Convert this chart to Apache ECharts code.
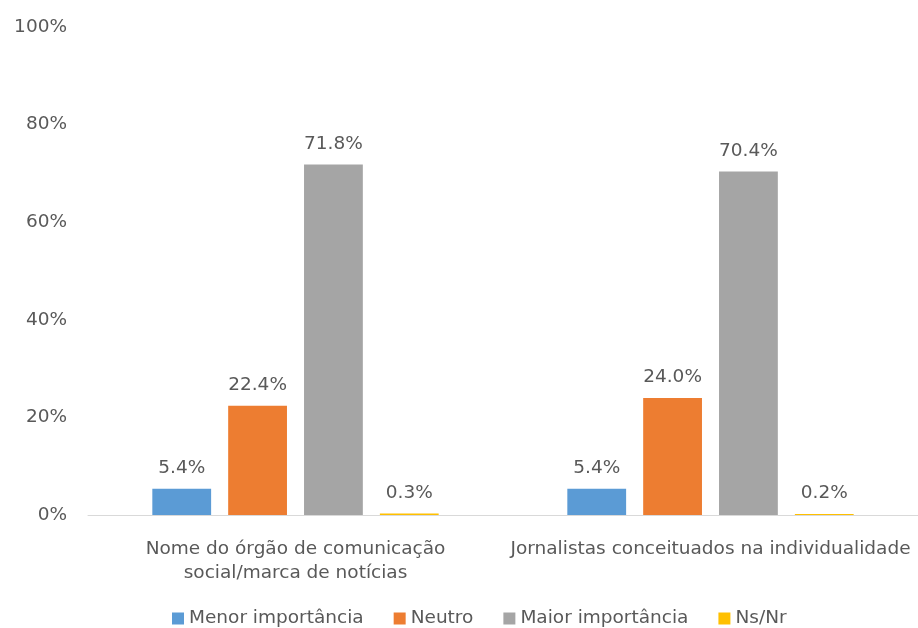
<!DOCTYPE html>
<html>
<head>
<meta charset="utf-8">
<script src="https://cdn.jsdelivr.net/npm/echarts@6/dist/echarts.min.js"></script>
<style>
  html, body { margin: 0; padding: 0; background: #ffffff; }
  #chart { width: 918px; height: 628px; }
</style>
</head>
<body>
<div id="chart"></div>
<script>
// Categories and series values (percent)
const categories = [
  'Nome do órgão de comunicação\nsocial/marca de notícias',
  'Jornalistas conceituados na individualidade'
];
const seriesNames = ['Menor importância', 'Neutro', 'Maior importância', 'Ns/Nr'];
const menorImportancia = [5.4, 5.4];
const neutro = [22.4, 24.0];
const maiorImportancia = [71.8, 70.4];
const nsNr = [0.3, 0.2];
const colors = ['#5b9bd5', '#ed7d31', '#a5a5a5', '#ffc000'];

const FONT = "'DejaVu Sans', Verdana, sans-serif";
const FS = 18.5;
const TEXT = '#595959';

const values = [menorImportancia, neutro, maiorImportancia, nsNr];

const chart = echarts.init(document.getElementById('chart'), null, { renderer: 'canvas' });
chart.setOption({
  animation: false,
  textStyle: { fontFamily: FONT },
  grid: { left: 88, right: 0, top: 27, bottom: 113, containLabel: false },
  legend: {
    bottom: -5,
    left: 167,
    itemWidth: 12,
    itemHeight: 12,
    itemGap: 30,
    icon: 'rect',
    textStyle: { color: TEXT, fontSize: FS, fontFamily: FONT },
    data: seriesNames
  },
  xAxis: {
    type: 'category',
    data: categories,
    axisLine: { show: true, lineStyle: { color: '#d9d9d9', width: 1 } },
    axisTick: { show: false },
    axisLabel: { color: TEXT, fontSize: FS, fontFamily: FONT, margin: 22, lineHeight: 24, interval: 0 }
  },
  yAxis: {
    type: 'value',
    min: 0,
    max: 100,
    interval: 20,
    axisLine: { show: false },
    axisTick: { show: false },
    splitLine: { show: false },
    axisLabel: { color: TEXT, fontSize: FS, fontFamily: FONT, margin: 21, formatter: '{value}%' }
  },
  series: seriesNames.map((name, i) => ({
    name: name,
    type: 'bar',
    data: values[i],
    barGap: '29%',
    barCategoryGap: '31%',
    itemStyle: { color: colors[i] },
    label: {
      show: true,
      position: 'top',
      distance: 11,
      color: TEXT,
      fontSize: FS,
      fontFamily: FONT,
      formatter: p => p.value.toFixed(1) + '%'
    }
  }))
});
</script>
</body>
</html>
